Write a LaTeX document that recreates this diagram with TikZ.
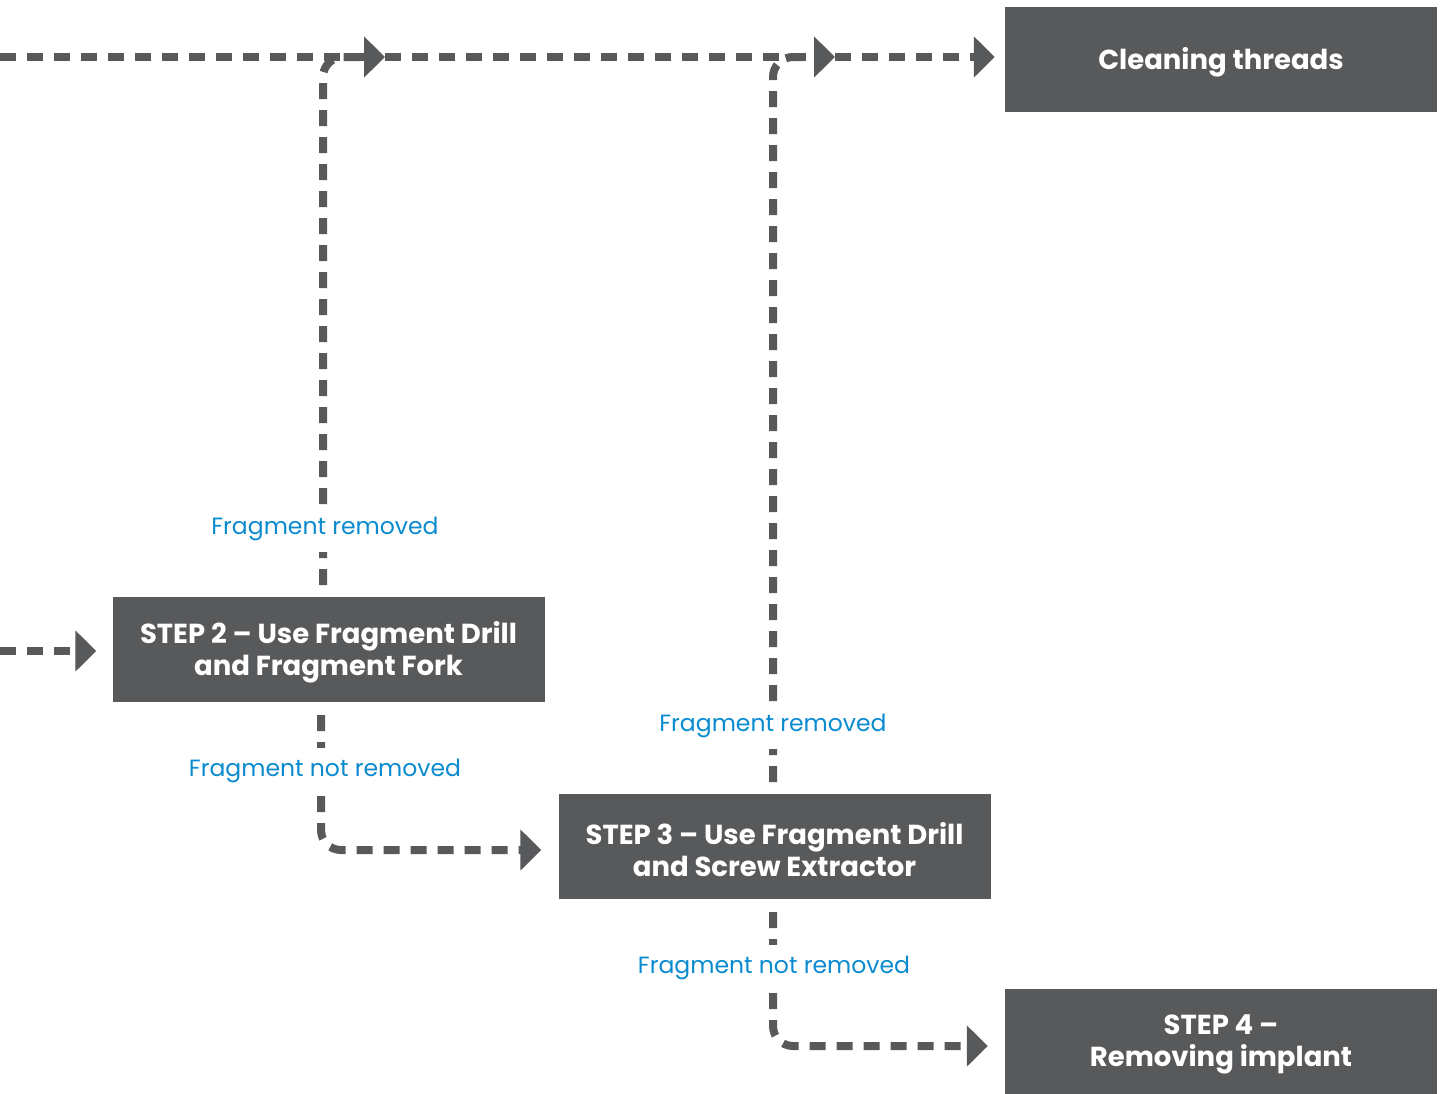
\documentclass[tikz,border=0pt]{standalone}
\usepackage{fontspec}
\setmainfont{Poppins}
\usetikzlibrary{arrows.meta,calc}
\definecolor{boxgray}{HTML}{58595B}
\definecolor{labblue}{HTML}{0A8BD0}
\tikzset{
  stepbox/.style={fill=boxgray,minimum width=432pt,minimum height=105pt,inner sep=0pt},
  boxtext/.style={text=white,inner sep=0pt,align=center,font=\fontsize{27.5}{32}\selectfont\bfseries},
  flow/.style={draw=boxgray,line width=8pt,dash pattern=on 16pt off 11pt},
  tip/.style={-{Triangle[length=21pt,width=40pt]}},
  lab/.style={fill=white,text=labblue,inner xsep=3pt,inner ysep=11pt,font=\fontsize{23.5}{28}\selectfont}
}
\begin{document}
\begin{tikzpicture}[x=1pt,y=-1pt]
\useasboundingbox (0,0) rectangle (1442,1093);
\node[stepbox] (clean) at (1221,59.5) {};
\node[stepbox] (step2) at (328.5,649.5) {};
\node[stepbox] (step3) at (774.5,846.5) {};
\node[stepbox] (step4) at (1221,1041.5) {};
\node[boxtext] (cleant) at ([yshift=-3pt]clean.center) {Cleaning threads};
\node[boxtext] (step2t) at ([yshift=-3pt]step2.center) {STEP 2 – Use Fragment Drill\\and Fragment Fork};
\node[boxtext] (step3t) at ([yshift=-3pt]step3.center) {STEP 3 – Use Fragment Drill\\and Screw Extractor};
\node[boxtext] (step4t) at ([yshift=-3pt]step4.center) {STEP 4 –\\Removing implant};
\coordinate (l1) at (0,57);
\coordinate (j1) at (385,57);
\coordinate (j2) at (835,57);
\coordinate (l2) at (0,651);
\coordinate (s2t) at (323,585);
\coordinate (s3t) at (773,782);
\coordinate (s2b) at (321,715);
\coordinate (s3b) at (773,912);
% branches
\draw[flow,rounded corners=20pt] (s2t) |- (360,57);
\draw[flow,rounded corners=20pt] (s3t) |- (810,57);
% top line
\draw[flow,tip] (l1) -- (j1);
\draw[flow,tip] (j1) -- (j2);
\draw[flow,tip,shorten >=10pt] (j2) -- (j2 -| clean.west);
% into step 2
\draw[flow,tip,shorten >=16pt] (l2) -- (l2 -| step2.west);
% step2 -> step3
\draw[flow,tip,rounded corners=20pt,shorten >=17pt] (s2b) |- ([yshift=-3.5pt]step3.west);
% step3 -> step4
\draw[flow,tip,rounded corners=20pt,shorten >=17pt] (s3b) |- ([yshift=-4.5pt]step4.west);
% labels
\node[lab] (lab1) at (325,529) {Fragment removed};
\node[lab] (lab2) at (773,726) {Fragment removed};
\node[lab] (lab3) at (325,771) {Fragment not removed};
\node[lab] (lab4) at (774,968) {Fragment not removed};
\end{tikzpicture}
\end{document}
